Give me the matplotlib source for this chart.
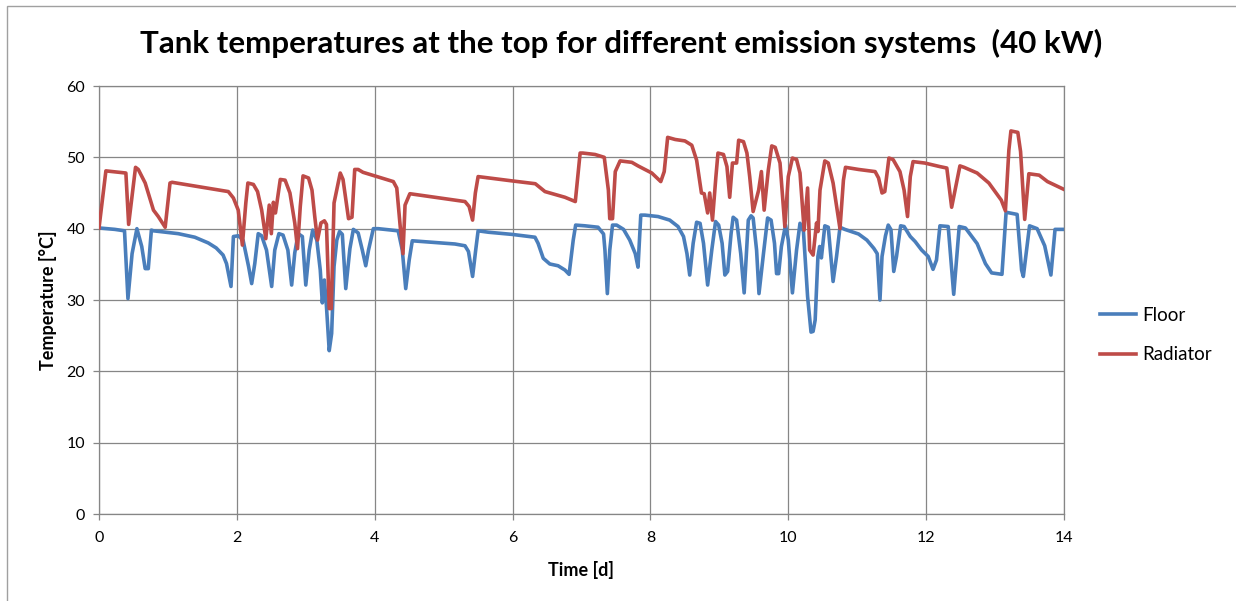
import matplotlib
matplotlib.use("Agg")
import matplotlib.pyplot as plt
from matplotlib.patches import Rectangle

plt.rcParams['font.family'] = ['Lato', 'DejaVu Sans']

# Tank top temperature, floor heating emission system
floor_t = [0.0, 0.23, 0.37, 0.42, 0.48, 0.55, 0.62, 0.67, 0.715, 0.76, 0.79,
           1.15, 1.39, 1.585, 1.70, 1.80, 1.85, 1.915, 1.95, 2.02, 2.09, 2.17,
           2.215, 2.26, 2.31, 2.36, 2.43, 2.505, 2.55, 2.61, 2.67, 2.74, 2.795,
           2.84, 2.89, 2.95, 3.00, 3.05, 3.10, 3.16, 3.21, 3.24, 3.27, 3.30,
           3.34, 3.375, 3.41, 3.45, 3.49, 3.53, 3.58, 3.64, 3.69, 3.76, 3.82,
           3.87, 3.91, 3.98, 4.05, 4.34, 4.40, 4.45, 4.50, 4.545, 4.68, 5.165,
           5.31, 5.36, 5.42, 5.465, 5.50, 5.65, 5.99, 6.325, 6.37, 6.445, 6.54,
           6.66, 6.76, 6.82, 6.88, 6.915, 7.05, 7.24, 7.32, 7.34, 7.375, 7.41,
           7.45, 7.51, 7.61, 7.70, 7.78, 7.82, 7.86, 7.92, 8.11, 8.28, 8.40,
           8.48, 8.53, 8.57, 8.62, 8.67, 8.72, 8.77, 8.83, 8.89, 8.945, 8.99,
           9.04, 9.08, 9.12, 9.17, 9.20, 9.25, 9.31, 9.36, 9.42, 9.46, 9.49,
           9.54, 9.575, 9.64, 9.70, 9.75, 9.80, 9.83, 9.86, 9.90, 9.96, 10.0,
           10.06, 10.12, 10.17, 10.22, 10.28, 10.33, 10.36, 10.39, 10.43,
           10.455, 10.48, 10.53, 10.58, 10.60, 10.65, 10.70, 10.75, 10.82,
           11.02, 11.14, 11.24, 11.29, 11.33, 11.36, 11.41, 11.45, 11.49,
           11.53, 11.57, 11.63, 11.68, 11.77, 11.84, 11.935, 12.03, 12.10,
           12.15, 12.20, 12.32, 12.40, 12.48, 12.57, 12.74, 12.86, 12.95,
           13.10, 13.16, 13.32, 13.385, 13.41, 13.50, 13.61, 13.72, 13.81,
           13.87, 14.0]
floor_temp = [40.1, 39.9, 39.7, 30.2, 36.5, 40.0, 37.5, 34.4, 34.4, 39.8, 39.7,
              39.3, 38.8, 38.0, 37.3, 36.3, 35.1, 31.9, 38.9, 39.0, 38.4, 34.7,
              32.3, 35.1, 39.3, 39.0, 37.0, 31.9, 37.0, 39.3, 39.1, 37.0, 32.1,
              36.6, 39.3, 38.9, 32.1, 37.0, 39.8, 38.4, 34.2, 29.6, 32.8, 29.1,
              22.9, 25.3, 34.7, 38.4, 39.6, 39.2, 31.6, 37.2, 39.9, 39.4, 37.0,
              34.8, 37.0, 40.0, 40.0, 39.7, 37.0, 31.6, 35.6, 38.3, 38.2, 37.85,
              37.6, 36.8, 33.3, 37.0, 39.7, 39.5, 39.2, 38.8, 37.95, 35.85, 35.05,
              34.8, 34.2, 33.6, 38.4, 40.5, 40.4, 40.2, 39.25, 37.0, 30.9, 37.0,
              40.5, 40.5, 39.9, 38.4, 36.5, 34.6, 41.9, 41.9, 41.7, 41.2, 40.3,
              38.9, 36.5, 33.5, 37.95, 40.9, 40.75, 37.95, 32.1, 37.0, 41.0, 40.5,
              37.95, 33.5, 34.0, 39.3, 41.6, 41.2, 36.5, 31.0, 41.2, 41.8, 41.5,
              37.0, 30.9, 36.5, 41.5, 41.2, 37.95, 33.7, 33.7, 37.5, 40.5, 38.4,
              31.0, 37.0, 40.75, 39.6, 30.5, 25.5, 25.6, 27.2, 36.1,
              37.5, 35.9, 40.4, 40.2, 38.0, 32.6, 36.1, 40.2, 39.9,
              39.25, 38.4, 37.25, 36.5, 30.0, 36.1, 39.0, 40.5, 39.85,
              34.0, 36.1, 40.4, 40.3, 38.9, 38.2, 37.0, 36.1, 34.3,
              35.6, 40.4, 40.3, 30.8, 40.3, 40.1, 37.9, 35.1, 33.8,
              33.6, 42.3, 42.0, 34.2, 33.3, 40.4, 40.0, 37.6, 33.5,
              39.9, 39.9]

# Tank top temperature, radiator emission system
radiator_t = [0.0, 0.10, 0.39, 0.43, 0.53, 0.57, 0.67, 0.79, 0.86, 0.96, 1.03,
              1.06, 1.755, 1.876, 1.95, 2.02, 2.08, 2.13, 2.16, 2.24, 2.30, 2.36,
              2.42, 2.47, 2.50, 2.53, 2.56, 2.63, 2.70, 2.77, 2.84, 2.88, 2.92,
              2.96, 3.04, 3.09, 3.13, 3.17, 3.22, 3.27, 3.30, 3.34, 3.37, 3.41,
              3.50, 3.54, 3.62, 3.67, 3.71, 3.76, 3.83, 4.00, 4.27, 4.32, 4.37,
              4.41, 4.44, 4.51, 5.165, 5.31, 5.37, 5.42, 5.46, 5.50, 5.99, 6.33,
              6.47, 6.76, 6.91, 6.98, 7.02, 7.196, 7.33, 7.39, 7.41, 7.45, 7.49,
              7.56, 7.73, 7.82, 8.02, 8.15, 8.20, 8.25, 8.36, 8.50, 8.60, 8.67,
              8.74, 8.78, 8.83, 8.86, 8.90, 8.95, 8.98, 9.06, 9.11, 9.15, 9.19,
              9.25, 9.28, 9.35, 9.40, 9.44, 9.49, 9.57, 9.61, 9.65, 9.71, 9.76,
              9.81, 9.88, 9.95, 10.00, 10.06, 10.12, 10.17, 10.23, 10.28, 10.31,
              10.36, 10.41, 10.43, 10.46, 10.53, 10.58, 10.65, 10.75, 10.80,
              10.83, 11.02, 11.26, 11.31, 11.36, 11.40, 11.46, 11.52, 11.62,
              11.68, 11.73, 11.77, 11.81, 11.98, 12.20, 12.30, 12.37, 12.49,
              12.55, 12.74, 12.91, 13.09, 13.15, 13.20, 13.23, 13.33, 13.37,
              13.43, 13.49, 13.64, 13.76, 14.0]
radiator_temp = [40.1, 48.1, 47.8, 40.6, 48.6, 48.3, 46.4, 42.6, 41.7, 40.2, 46.4,
                 46.5, 45.4, 45.2, 44.3, 42.6, 37.7, 43.6, 46.4, 46.2, 45.2, 42.6,
                 38.6, 43.3, 39.3, 43.7, 42.2, 46.9, 46.8, 45.0, 40.8, 37.2, 43.1,
                 47.4, 47.1, 45.4, 41.7, 38.4, 40.8, 41.1, 40.6, 28.8, 28.8, 43.6,
                 47.8, 46.9, 41.4, 41.6, 48.3, 48.3, 47.9, 47.4, 46.6, 45.7, 40.3,
                 36.5, 43.3, 44.9, 44.0, 43.8, 43.1, 41.2, 45.0, 47.3, 46.7, 46.3,
                 45.2, 44.4, 43.8, 50.6, 50.6, 50.4, 50.0, 45.4, 41.4, 41.4, 48.0,
                 49.5, 49.3, 48.8, 47.8, 46.6, 48.0, 52.8, 52.5, 52.3, 51.7, 49.6,
                 45.0, 44.9, 42.2, 45.0, 41.2, 47.3, 50.6, 50.4, 48.7, 44.4, 49.2,
                 49.2, 52.4, 52.2, 50.6, 47.3, 42.4, 45.4, 48.0, 42.6, 48.2, 51.6,
                 51.4, 49.2, 40.3, 47.3, 49.9, 49.7, 47.8, 39.8, 45.7, 37.0,
                 36.3, 40.8, 39.6, 45.4, 49.5, 49.2, 46.4, 40.0, 46.8,
                 48.6, 48.3, 48.0, 47.1, 45.0, 45.2, 49.9, 49.7, 48.0,
                 45.4, 41.7, 47.3, 49.4, 49.2, 48.7, 48.5, 43.0, 48.8,
                 48.6, 47.8, 46.4, 44.0, 42.5, 51.0, 53.7, 53.5, 50.8,
                 41.3, 47.7, 47.5, 46.6, 45.5]

x_ticks = [0, 2, 4, 6, 8, 10, 12, 14]
y_ticks = [0, 10, 20, 30, 40, 50, 60]

grid_col = '#868686'
text_col = '#000000'

fig = plt.figure(figsize=(12.36, 6.01), dpi=100)
fig.patch.set_facecolor('white')

# thin outer chart border
fig.patches.append(Rectangle((7 / 1236, -0.01), 1.02, 1 - 6 / 601 + 0.01,
                             transform=fig.transFigure, fill=False,
                             edgecolor='#A0A0A0', linewidth=1.0))

ax = fig.add_axes([99 / 1236, 1 - 514 / 601, (1064 - 99) / 1236, (514 - 86) / 601])

ax.plot(floor_t, floor_temp, color='#4A7EBB', linewidth=2.6, label='Floor',
        solid_joinstyle='round', zorder=3)
ax.plot(radiator_t, radiator_temp, color='#BE4B48', linewidth=2.6, label='Radiator',
        solid_joinstyle='round', zorder=3)

ax.set_xlim(0, 14)
ax.set_ylim(0, 60)
ax.set_xticks(x_ticks)
ax.set_yticks(y_ticks)
ax.grid(True, color=grid_col, linewidth=0.9, zorder=0)
ax.set_axisbelow(True)
for s in ax.spines.values():
    s.set_color(grid_col)
    s.set_linewidth(0.9)
ax.tick_params(axis='both', length=4, width=0.9, color=grid_col,
               labelsize=11.5, labelcolor=text_col)
ax.tick_params(axis='x', pad=8)
ax.tick_params(axis='y', pad=6)

ax.set_xlabel('Time [d]', fontsize=13, fontweight='bold', labelpad=12)
ax.set_ylabel('Temperature [°C]', fontsize=13, fontweight='bold', labelpad=7)

fig.text(0.5026, 1 - 43 / 601,
         'Tank temperatures at the top for different emission systems  (40 kW)',
         ha='center', va='center', fontsize=22.5, fontweight='bold')

fig.legend(loc='center left', bbox_to_anchor=(1100 / 1236, 1 - 335 / 601),
           frameon=False, fontsize=13.5, handlelength=1.9, handletextpad=0.35,
           labelspacing=1.2, borderpad=0, borderaxespad=0)

fig.savefig('out.png', dpi=100, facecolor='white')
